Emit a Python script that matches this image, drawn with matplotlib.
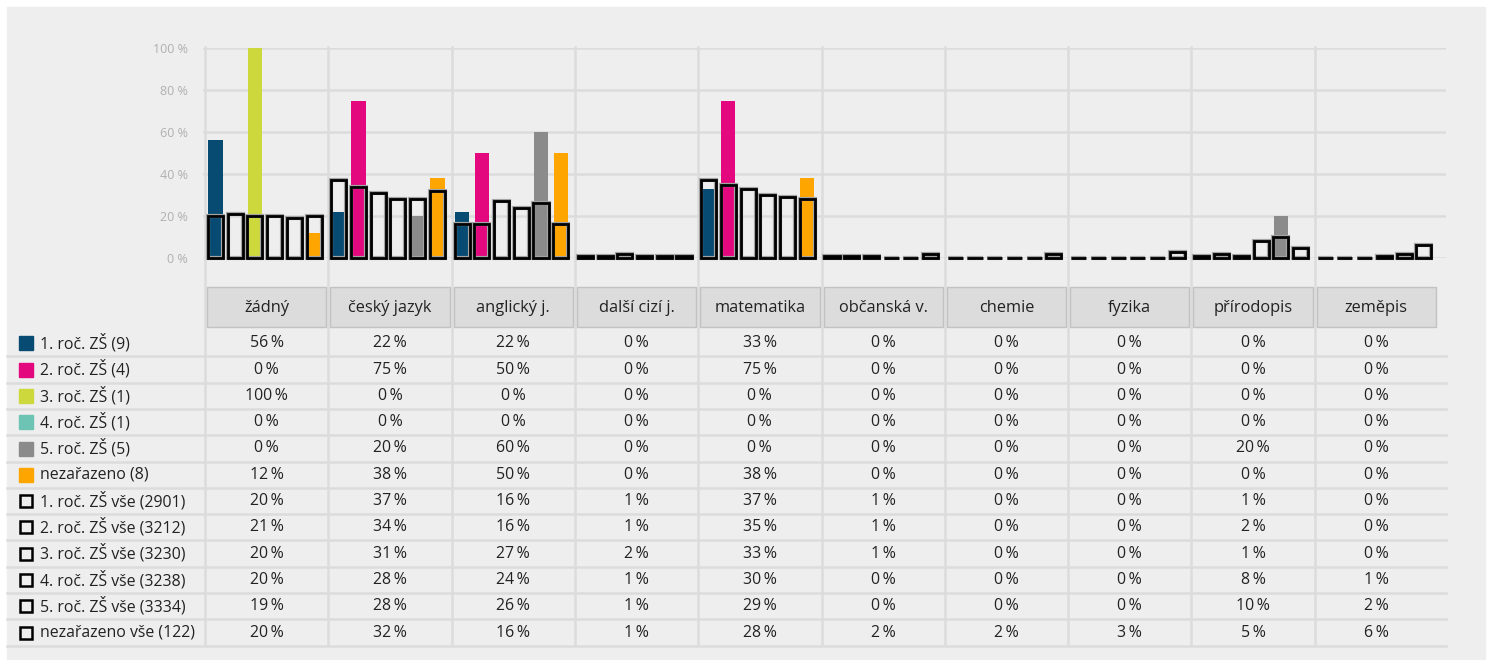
import matplotlib.pyplot as plt
from matplotlib.patches import Rectangle
import numpy as np

plt.rcParams['font.family'] = ['Open Sans', 'DejaVu Sans']

categories = ['žádný', 'český jazyk', 'anglický j.', 'další cizí j.', 'matematika',
              'občanská v.', 'chemie', 'fyzika', 'přírodopis', 'zeměpis']

group_labels = ['1. roč. ZŠ (9)', '2. roč. ZŠ (4)', '3. roč. ZŠ (1)',
                '4. roč. ZŠ (1)', '5. roč. ZŠ (5)', 'nezařazeno (8)']
group_colors = ['#074a72', '#e4087f', '#cdd83d', '#6dc4b5', '#8b8b8b', '#ffa500']
group_values = [
    [56, 22, 22, 0, 33, 0, 0, 0, 0, 0],
    [0, 75, 50, 0, 75, 0, 0, 0, 0, 0],
    [100, 0, 0, 0, 0, 0, 0, 0, 0, 0],
    [0, 0, 0, 0, 0, 0, 0, 0, 0, 0],
    [0, 20, 60, 0, 0, 0, 0, 0, 20, 0],
    [12, 38, 50, 0, 38, 0, 0, 0, 0, 0],
]

all_labels = ['1. roč. ZŠ vše (2901)', '2. roč. ZŠ vše (3212)', '3. roč. ZŠ vše (3230)',
              '4. roč. ZŠ vše (3238)', '5. roč. ZŠ vše (3334)', 'nezařazeno vše (122)']
all_values = [
    [20, 37, 16, 1, 37, 1, 0, 0, 1, 0],
    [21, 34, 16, 1, 35, 1, 0, 0, 2, 0],
    [20, 31, 27, 2, 33, 1, 0, 0, 1, 0],
    [20, 28, 24, 1, 30, 0, 0, 0, 8, 1],
    [19, 28, 26, 1, 29, 0, 0, 0, 10, 2],
    [20, 32, 16, 1, 28, 2, 2, 3, 5, 6],
]

W, H = 1490, 660
GRID = '#dcdcdc'
fig = plt.figure(figsize=(W / 100, H / 100), dpi=100, facecolor='white')

# pixel-space layer for panel, table and separators
bg = fig.add_axes([0, 0, 1, 1])
bg.set_xlim(0, W)
bg.set_ylim(H, 0)
bg.axis('off')
bg.add_patch(Rectangle((7, 7), 1478, 653, color='#eeeeee', zorder=0))

x0, cw = 205, (1438 - 205) / 10
for k in range(10):
    bg.plot([x0 + k * cw] * 2, [47, 645], color=GRID, lw=1.8, zorder=1)

# header boxes
for k, cat in enumerate(categories):
    left = x0 + k * cw
    bg.add_patch(Rectangle((left + 2, 287), cw - 4, 40, fc='#dcdcdc', ec='#c2c2c2',
                           lw=1, zorder=2))
    bg.text(left + cw / 2, 308, cat, ha='center', va='center', fontsize=11.8,
            color='#222222', zorder=3)

# table rows
row0, rh = 330, 26.3
rows = list(zip(group_labels, group_values, group_colors)) + \
       [(l, v, None) for l, v in zip(all_labels, all_values)]
for i, (label, vals, col) in enumerate(rows):
    yc = row0 + rh * i + 13.3
    if col:
        bg.add_patch(Rectangle((19, yc - 7), 14, 14, color=col, zorder=3))
    else:
        bg.add_patch(Rectangle((20, yc - 6), 12, 12, fill=False, ec='black',
                               lw=1.8, zorder=3))
    bg.text(40, yc, label, ha='left', va='center', fontsize=11.4, color='#222222')
    for k, v in enumerate(vals):
        bg.text(x0 + k * cw + cw / 2, yc, f'{v}\u2009%', ha='center', va='center',
                fontsize=11.4, color='#222222')
    bg.plot([7, 1446], [row0 + rh * (i + 1)] * 2, color=GRID, lw=1.8, zorder=1)

# bar chart
ax_l, ax_r, ax_t, ax_b = 203, 1446, 48, 258
ax = fig.add_axes([ax_l / W, 1 - ax_b / H, (ax_r - ax_l) / W, (ax_b - ax_t) / H])
ax.patch.set_alpha(0)
for s in ax.spines.values():
    s.set_visible(False)
ax.set_xlim((ax_l - x0) / cw, 10 + (ax_r - 1438) / cw)
ax.set_ylim(0, 100)
ax.set_xticks([])
ax.set_yticks(range(0, 101, 20))
ax.set_yticklabels([f'{v} %' for v in range(0, 101, 20)])
ax.tick_params(axis='y', length=0, pad=11, labelsize=9, labelcolor='#b0b0b0')
ax.yaxis.grid(True, color=GRID, lw=1.8)
ax.set_axisbelow(True)

base = np.arange(10) + 0.485
for s in range(6):
    xs = base + (s - 2.5) * 0.16
    ax.bar(xs, group_values[s], width=0.115, color=group_colors[s], zorder=2)
    ax.bar(xs, all_values[s], width=0.122, fill=False, edgecolor='#a4a4a4',
           lw=3.0, zorder=3, clip_on=False)
    ax.bar(xs, all_values[s], width=0.122, fill=False, edgecolor='black',
           lw=2.0, zorder=4, clip_on=False)

fig.savefig('out.png', dpi=100, facecolor='white')
